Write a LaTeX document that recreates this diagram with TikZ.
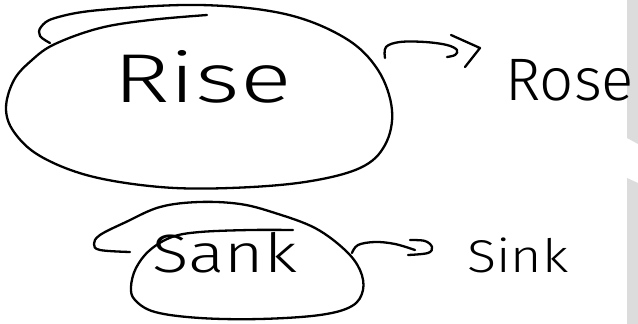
\documentclass[tikz,border=0pt]{standalone}
\usepackage{fontspec}
\usepackage{graphicx}
\newfontfamily\hand{Fira Sans Light}
\definecolor{barg}{HTML}{DCDCDC}
\tikzset{
  pen/.style={draw=black, line width=2.3pt, line cap=round, line join=round},
  word/.style={inner sep=0pt, anchor=base west, font=\hand},
}
\begin{document}
\begin{tikzpicture}[x=1pt, y=-1pt]
\useasboundingbox (0,0) rectangle (638,324);
% side bars
\fill[barg] (627,0) -- (638,0) -- (638,144) -- (627,138) -- cycle;
\fill[barg] (627,178) -- (638,183) -- (638,324) -- (627,324) -- cycle;
% words
\node[word, font=\hand\fontsize{64}{64}\selectfont] (rise) at (113,102) {\scalebox{1.5}[1.08]{Rise}};
\node[word, font=\hand\fontsize{60}{60}\selectfont] (rose) at (505,100) {Rose};
\node[word, font=\hand\fontsize{54}{54}\selectfont] (sank) at (152,272) {\scalebox{1.25}[1]{Sank}};
\node[word, font=\hand\fontsize{46}{46}\selectfont] (sink) at (467,272) {\scalebox{1.17}[1]{Sink}};
% big loop round Rise
\draw[pen] plot[smooth, tension=0.6] coordinates {
 (50,43) (40,36) (41,27) (55,18) (100,10) (200,5) (285,14) (345,38) (378,70)
 (392,110) (385,145) (360,168) (305,182) (230,188) (160,187) (90,176) (40,156)
 (14,132) (6,108) (14,80) (32,60) (55,44) (100,28) (150,20) (207,15)};
% small loop round Sank
\draw[pen] plot[smooth, tension=0.6] coordinates {
 (130,252) (100,250) (94,244) (100,235) (126,222) (160,207) (199,202) (240,204)
 (275,213) (315,228) (345,250) (360,270) (363,290) (352,306) (320,315) (260,319)
 (200,318) (155,312) (135,300) (131,287) (136,268) (150,250) (172,237) (200,232)
 (250,230) (293,230)};
% arrow Rise -> Rose
\coordinate (a1s) at (385,58);
\coordinate (a1e) at (447,57);
\coordinate (h1a) at (451,35);
\coordinate (h1t) at (480,48);
\coordinate (h1b) at (465,67);
\draw[pen] plot[smooth, tension=0.6] coordinates {(a1s) (386,47) (400,42) (425,42) (447,45) (457,50) (455,55) (a1e)};
\draw[pen] (h1a) -- (h1t) -- (h1b);
% arrow Sank -> Sink
\coordinate (a2s) at (352,253);
\coordinate (a2e) at (415,250);
\coordinate (h2a) at (410,240);
\coordinate (h2b) at (408,255);
\draw[pen] plot[smooth, tension=0.6] coordinates {(a2s) (358,245) (375,242) (395,244) (a2e)};
\draw[pen] plot[smooth, tension=0.6] coordinates {(h2a) (425,241) (432,247) (428,253) (h2b)};
\end{tikzpicture}
\end{document}
